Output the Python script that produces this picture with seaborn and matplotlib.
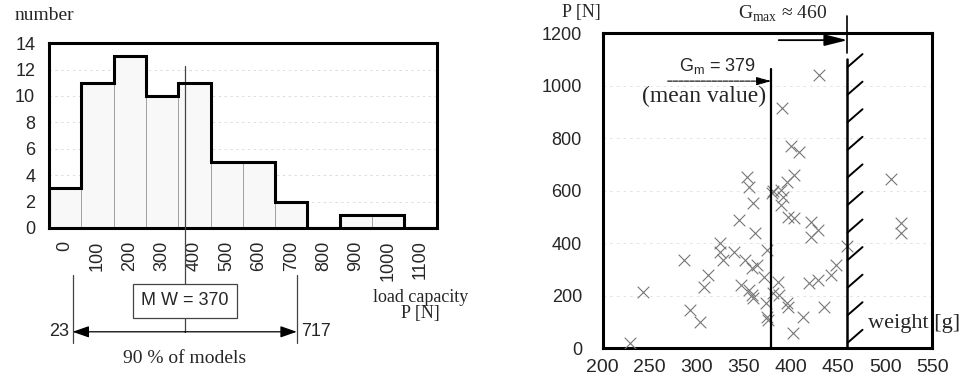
import numpy as np
import pandas as pd
import matplotlib
matplotlib.use("Agg")
import matplotlib.pyplot as plt
import seaborn as sns

# ---- data ----
bins = ["0", "100", "200", "300", "400", "500", "600", "700", "800", "900", "1000", "1100"]
counts = [3, 11, 13, 10, 11, 5, 5, 2, 0, 1, 1, 0]
mean_load = 370
p5_load, p95_load = 23, 717

weight = [229, 243, 286, 293, 303, 308, 312, 325, 325, 328, 339, 345, 347, 351, 355,
          353, 360, 362, 359, 364, 355, 359, 360, 371, 373, 375, 376, 380, 386, 387,
          389, 392, 389, 396, 403, 397, 403, 402, 397, 396, 413, 419, 421, 421, 429,
          429, 435, 442, 448, 460, 506, 517, 517, 430, 390, 400, 409, 375, 381, 381]
load = [19, 213, 335, 145, 99, 232, 278, 400, 366, 335, 366, 488, 240, 335, 613,
        651, 552, 438, 305, 316, 221, 202, 190, 270, 171, 373, 107, 590, 251, 202,
        545, 575, 602, 633, 659, 500, 495, 57, 156, 171, 118, 248, 480, 423, 450,
        259, 158, 278, 316, 390, 645, 478, 438, 1040, 914, 770, 747, 118, 210, 600]
g_mean = 379
g_max = 460

sns.set_style("white")
plt.rcParams["font.family"] = ["Liberation Sans", "DejaVu Sans"]
serif = ["Liberation Serif", "DejaVu Serif"]

fig = plt.figure(figsize=(9.69, 3.89), dpi=100)

# -------------------------------
# left: histogram of load capacity
# -------------------------------
ax1 = fig.add_axes([0.0506, 0.414, 0.4, 0.475])
hist_df = pd.DataFrame({"bin": bins, "count": counts})
sns.barplot(data=hist_df, x="bin", y="count", order=bins, width=1.0,
            color="#f8f8f8", edgecolor="#9a9a9a", linewidth=0.6, saturation=1, ax=ax1)
ax1.stairs(counts, np.arange(len(bins) + 1) - 0.5, color="black", linewidth=2.2, zorder=4)
ax1.set_xlim(-0.5, len(bins) - 0.5)
ax1.set_ylim(0, 14)
ax1.set_yticks(range(0, 15, 2))
ax1.yaxis.grid(True, color="#d8d8d8", linewidth=0.6, linestyle=(0, (3, 4)))
ax1.set_axisbelow(True)
ax1.set_xlabel("")
ax1.set_ylabel("")
ax1.tick_params(axis="x", labelrotation=90, labelsize=13, length=3, pad=6)
ax1.tick_params(axis="y", labelsize=13, length=0, pad=10)
for s in ax1.spines.values():
    s.set_linewidth(2.2)
    s.set_color("black")

# mean line and annotations below axis (data coords, ylim 0..14)
arrow_y = -0.562 * 14
m = mean_load / 100
ax1.plot([m, m], [12.3, arrow_y], color="#444", linewidth=0.9, clip_on=False, zorder=3)
for v in (p5_load, p95_load):
    ax1.plot([v / 100, v / 100], [-0.254 * 14, -0.622 * 14], color="#444",
             linewidth=0.9, clip_on=False)
ax1.annotate("", xy=(p5_load / 100, arrow_y), xytext=(m, arrow_y),
             arrowprops=dict(arrowstyle="-|>,head_length=1.0,head_width=0.35",
                             color="black", lw=0.9, shrinkA=0, shrinkB=0),
             annotation_clip=False)
ax1.annotate("", xy=(p95_load / 100, arrow_y), xytext=(m, arrow_y),
             arrowprops=dict(arrowstyle="-|>,head_length=1.0,head_width=0.35",
                             color="black", lw=0.9, shrinkA=0, shrinkB=0),
             annotation_clip=False)
ax1.text(m, -0.395 * 14, f"M W = {mean_load}", ha="center", va="center", fontsize=13,
         bbox=dict(boxstyle="square,pad=0.45", fc="white", ec="#444", lw=0.9),
         zorder=5, clip_on=False)
ax1.text(p5_load / 100 - 0.12, arrow_y, str(p5_load), ha="right", va="center", fontsize=13)
ax1.text(p95_load / 100 + 0.12, arrow_y, str(p95_load), ha="left", va="center", fontsize=13)
ax1.text(m, -0.66 * 14, "90 % of models", ha="center", va="top", fontsize=14, family=serif)
ax1.text(11.0, -0.42 * 14, "load capacity\nP [N]", ha="center", va="center",
         fontsize=13, family=serif, linespacing=0.95)
fig.text(0.046, 0.961, "number", ha="center", va="center", fontsize=14, family=serif)

# -------------------------------
# right: load capacity vs weight
# -------------------------------
ax2 = fig.add_axes([0.622, 0.105, 0.34, 0.81])
sc_df = pd.DataFrame({"weight": weight, "load": load})
sns.scatterplot(data=sc_df, x="weight", y="load", marker="x", s=70, color="#777777",
                linewidth=0.8, ax=ax2, zorder=3)
ax2.set_xlim(200, 550)
ax2.set_ylim(0, 1200)
ax2.set_xticks(range(200, 551, 50))
ax2.set_yticks(range(0, 1201, 200))
ax2.yaxis.grid(True, color="#dddddd", linewidth=0.6, linestyle=(0, (3, 5)))
ax2.set_xlabel("")
ax2.set_ylabel("")
ax2.tick_params(axis="x", labelsize=14, length=0, pad=8)
ax2.tick_params(axis="y", labelsize=13, length=0, pad=15)
for s in ax2.spines.values():
    s.set_linewidth(2.2)
    s.set_color("black")

# mean weight line
ax2.plot([g_mean, g_mean], [0, 1065], color="black", linewidth=1.6, zorder=4)
ax2.annotate("", xy=(g_mean, 1017), xytext=(269, 1017),
             arrowprops=dict(arrowstyle="-|>,head_length=0.9,head_width=0.25",
                             color="black", lw=0.8, ls=(0, (4, 1)), shrinkA=0, shrinkB=0))
ax2.text(322, 1075, "G$_\\mathregular{m}$ = 379", ha="center", va="center", fontsize=13)
ax2.text(308, 960, "(mean value)", ha="center", va="center", fontsize=17, family=serif)

# max weight limit with hatching
ax2.plot([g_max, g_max], [0, 1100], color="black", linewidth=1.8, zorder=4)
for yh in np.arange(20, 1100, 105):
    ax2.plot([g_max, g_max + 16], [yh, yh + 50], color="black", linewidth=1.4, zorder=4)
ax2.plot([g_max, g_max], [1125, 1265], color="black", linewidth=1.2, clip_on=False)
ax2.annotate("", xy=(g_max, 1173), xytext=(387, 1173),
             arrowprops=dict(arrowstyle="-|>,head_length=1.4,head_width=0.35",
                             color="black", lw=1.3, shrinkA=0, shrinkB=0),
             annotation_clip=False)
ax2.text(391, 1275, "G$_\\mathregular{max}$ ≈ 460", ha="center", va="center", fontsize=14,
         family=serif, clip_on=False)
ax2.text(482, 95, "weight [g]", ha="left", va="center", fontsize=16, family=serif, zorder=5)
fig.text(0.6, 0.969, "P [N]", ha="center", va="center", fontsize=13, family=serif)

fig.savefig("out.png", dpi=100)
